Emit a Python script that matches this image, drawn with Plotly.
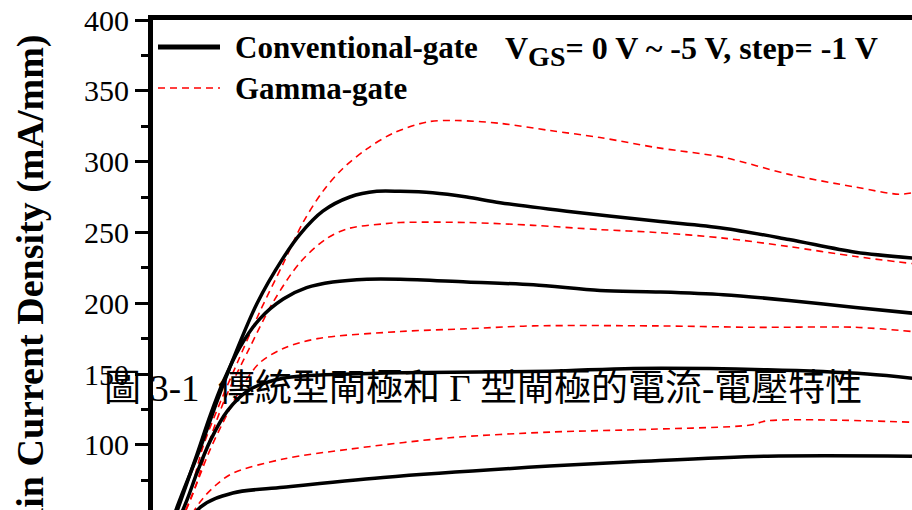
import plotly.graph_objects as go

# Drain voltage (V) samples and drain current density (mA/mm) for each gate bias.
# Conventional gate, VGS = 0, -1, -2, -3 V
conv_vgs0_vds = [0, 0.30, 0.56, 0.74, 0.92, 1.19, 1.48, 1.67, 1.92, 2.22, 2.52, 2.78, 3.14, 3.52, 3.89, 4.63, 5.62, 6.37, 7.10, 7.84, 8.47]
conv_vgs0_id = [0, 56, 98, 130, 160, 200, 232, 249, 265, 275, 279, 279, 278, 275, 271, 265, 258, 253, 245, 236, 232]

conv_vgs1_vds = [0, 0.31, 0.52, 0.67, 0.81, 1.00, 1.22, 1.48, 1.74, 2.03, 2.41, 2.78, 3.52, 4.26, 5.00, 5.62, 6.37, 7.10, 7.84, 8.47]
conv_vgs1_id = [0, 55, 93, 121, 144, 169, 189, 203, 211, 215, 217, 217, 215, 213, 209, 208, 206, 202, 197, 193]

conv_vgs2_vds = [0, 0.41, 0.52, 0.67, 0.86, 1.11, 1.48, 2.22, 2.78, 4.44, 5.37, 6.86, 7.97, 8.47]
conv_vgs2_id = [0, 61, 80, 103, 124, 139, 147, 150, 151, 152, 154, 153, 150, 147]

conv_vgs3_vds = [0, 0.56, 0.92, 1.48, 2.59, 4.44, 5.37, 6.86, 8.47]
conv_vgs3_id = [0, 56, 66, 70, 77, 85, 88, 92, 92]

# Gamma gate, VGS = 0, -1, -2, -3 V
gamma_vgs0_vds = [0, 0.44, 0.59, 0.78, 0.97, 1.22, 1.48, 1.70, 1.92, 2.14, 2.41, 2.70, 3.08, 3.41, 3.89, 4.44, 5.00, 5.62, 6.37, 7.10, 7.84, 8.32, 8.47]
gamma_vgs0_id = [0, 66, 99, 130, 158, 194, 228, 257, 279, 295, 309, 320, 328, 329, 327, 322, 317, 310, 303, 291, 282, 277, 278]

gamma_vgs1_vds = [0, 0.48, 0.64, 0.83, 1.11, 1.37, 1.67, 1.97, 2.22, 2.59, 2.78, 3.52, 4.26, 5.00, 5.62, 6.37, 7.10, 7.84, 8.47]
gamma_vgs1_id = [0, 66, 99, 132, 169, 201, 229, 246, 253, 256, 257, 257, 255, 252, 250, 246, 240, 233, 228]

gamma_vgs2_vds = [0, 0.41, 0.52, 0.67, 0.86, 1.03, 1.22, 1.48, 1.86, 2.78, 3.52, 4.26, 5.62, 6.73, 7.84, 8.47]
gamma_vgs2_id = [0, 56, 73, 97, 122, 142, 158, 168, 175, 180, 182, 184, 184, 183, 183, 180]

gamma_vgs3_vds = [0, 0.56, 0.74, 0.92, 1.48, 2.22, 3.33, 4.44, 5.56, 6.67, 6.86, 8.47]
gamma_vgs3_id = [0, 60, 72, 80, 90, 97, 105, 109, 111, 114, 117, 116]

y_ticks = [100, 150, 200, 250, 300, 350, 400]

conventional = [
    (conv_vgs0_vds, conv_vgs0_id),
    (conv_vgs1_vds, conv_vgs1_id),
    (conv_vgs2_vds, conv_vgs2_id),
    (conv_vgs3_vds, conv_vgs3_id),
]
gamma = [
    (gamma_vgs0_vds, gamma_vgs0_id),
    (gamma_vgs1_vds, gamma_vgs1_id),
    (gamma_vgs2_vds, gamma_vgs2_id),
    (gamma_vgs3_vds, gamma_vgs3_id),
]

SERIF = "Liberation Serif, Times New Roman, serif"
RED_DASH = "7px,5px"

fig = go.Figure()

for vds, ids in gamma:
    fig.add_trace(go.Scatter(
        x=vds, y=ids, mode="lines", line_shape="spline",
        line=dict(color="#ff0000", width=1.6, dash=RED_DASH, smoothing=0.9),
        name="Gamma-gate", legendgroup="gamma", showlegend=False, hoverinfo="skip",
    ))

for vds, ids in conventional:
    fig.add_trace(go.Scatter(
        x=vds, y=ids, mode="lines", line_shape="spline",
        line=dict(color="black", width=3.5, smoothing=0.9),
        name="Conventional-gate", legendgroup="conv", showlegend=False, hoverinfo="skip",
    ))

PLOT_LEFT = 153
PLOT_TOP = 20
PLOT_H = 510 - PLOT_TOP

fig.update_layout(
    width=912, height=510,
    margin=dict(l=PLOT_LEFT, r=0, t=PLOT_TOP, b=0, autoexpand=False),
    paper_bgcolor="white", plot_bgcolor="white",
    showlegend=False,
    xaxis=dict(
        range=[0.033, 8.467], side="top",
        showline=True, linecolor="black", linewidth=5,
        ticks="", showticklabels=False, showgrid=False, zeroline=False,
    ),
    yaxis=dict(
        range=[54, 400], tickvals=y_ticks,
        showline=True, linecolor="black", linewidth=5,
        ticks="outside", ticklen=13, tickwidth=3, tickcolor="black",
        minor=dict(dtick=25, tick0=0, ticks="outside", ticklen=7, tickwidth=3,
                   tickcolor="black", showgrid=False),
        showgrid=False, zeroline=False,
        tickfont=dict(family=SERIF, size=30, color="black"),
    ),
)

# Legend drawn as line samples plus bold labels
fig.add_shape(type="line", xref="paper", yref="paper",
              xsizemode="pixel", ysizemode="pixel", xanchor=0, yanchor=1,
              x0=5, x1=67, y0=-27, y1=-27,
              line=dict(color="black", width=5))
fig.add_shape(type="line", xref="paper", yref="paper",
              xsizemode="pixel", ysizemode="pixel", xanchor=0, yanchor=1,
              x0=5, x1=67, y0=-68, y1=-68,
              line=dict(color="#ff0000", width=1.6, dash=RED_DASH))

LEGEND_FONT = dict(family=SERIF, size=31, color="black")
fig.add_annotation(text="<b>Conventional-gate</b>", xref="paper", yref="paper",
                   x=0, y=1, xshift=236 - PLOT_LEFT - 3, yshift=-27,
                   xanchor="left", yanchor="middle", showarrow=False, font=LEGEND_FONT)
fig.add_annotation(text="<b>Gamma-gate</b>", xref="paper", yref="paper",
                   x=0, y=1, xshift=236 - PLOT_LEFT - 3, yshift=-68,
                   xanchor="left", yanchor="middle", showarrow=False, font=LEGEND_FONT)
fig.add_annotation(text="<b>V<sub><span style='font-size:28px'>GS</span></sub>= 0 V ~ -5 V, step= -1 V</b>",
                   xref="paper", yref="paper",
                   x=0, y=1, xshift=506 - PLOT_LEFT - 3, yshift=-31,
                   xanchor="left", yanchor="middle", showarrow=False,
                   font=dict(family=SERIF, size=32, color="black"))

# Vertical axis title
fig.add_annotation(text="<b>Drain Current Density (mA/mm)</b>", xref="paper", yref="paper",
                   x=0, y=(510 - 303) / PLOT_H, xshift=30 - PLOT_LEFT,
                   xanchor="center", yanchor="middle", textangle=-90, showarrow=False,
                   font=dict(family=SERIF, size=38, color="black"))

# Figure caption
fig.add_annotation(text="圖 3-1  傳統型閘極和 Γ 型閘極的電流-電壓特性", xref="paper", yref="paper",
                   x=0, y=(510 - 388) / PLOT_H, xshift=105 - PLOT_LEFT - 3,
                   xanchor="left", yanchor="middle", showarrow=False,
                   font=dict(family="Liberation Serif, Noto Sans CJK TC", size=37, color="black"))

fig.write_html("out.html")
